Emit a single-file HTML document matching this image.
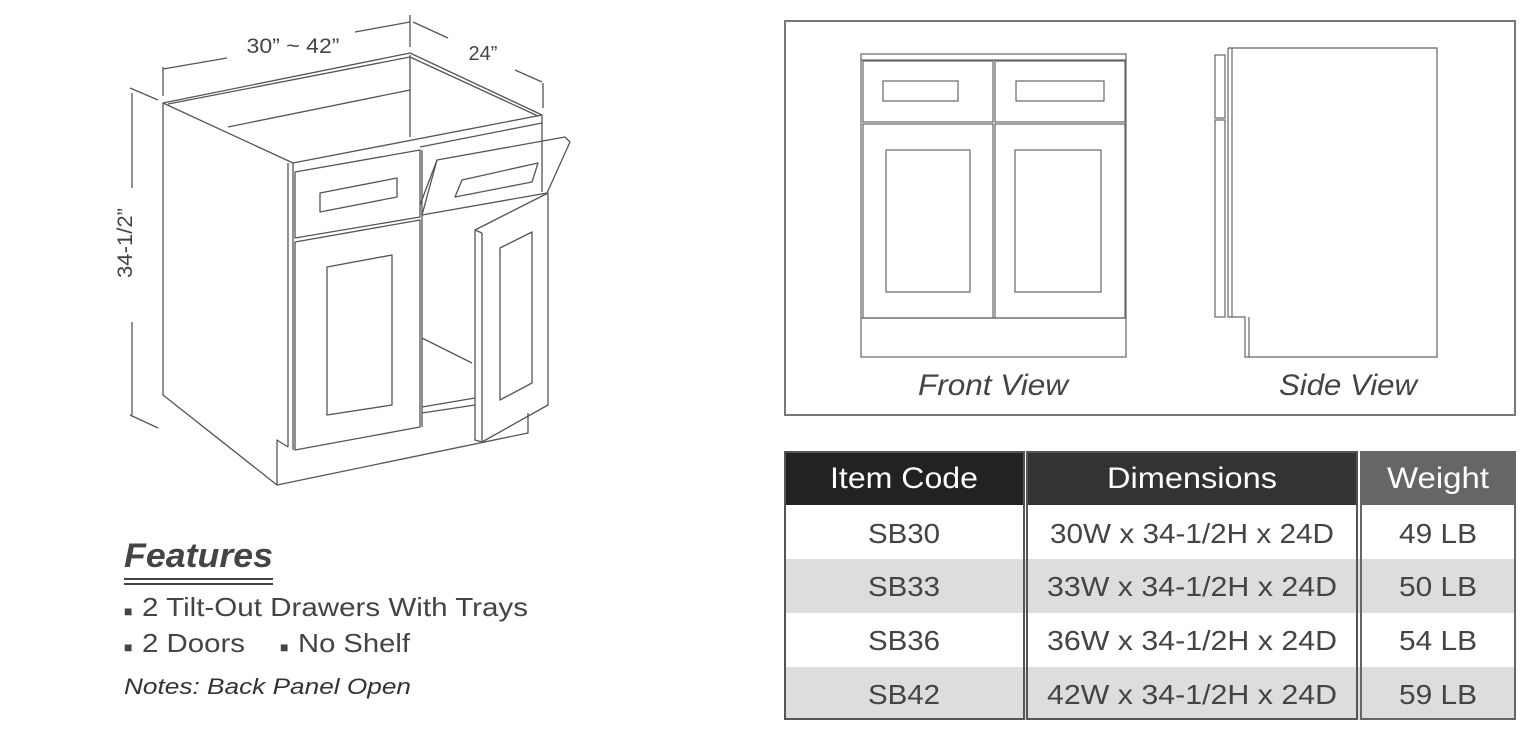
<!DOCTYPE html>
<html><head><meta charset="utf-8"><style>
html,body{margin:0;padding:0;background:#fff;}
svg{display:block;}
text{font-family:"Liberation Sans",Arial,sans-serif;}
</style></head><body>
<svg width="1536" height="733" viewBox="0 0 1536 733" xmlns="http://www.w3.org/2000/svg">
<rect width="1536" height="733" fill="#fff"/>
<g fill="none" stroke="#555" stroke-width="1.3" stroke-linejoin="round">
  <line x1="163" y1="67" x2="163" y2="96"/>
  <line x1="410" y1="15" x2="410" y2="47"/>
  <line x1="163" y1="69" x2="227" y2="58"/>
  <line x1="355" y1="32" x2="410" y2="22"/>
  <line x1="413" y1="22" x2="448" y2="38"/>
  <line x1="515" y1="70" x2="542" y2="82"/>
  <line x1="543" y1="83" x2="543" y2="108"/>
  <line x1="132" y1="93" x2="132" y2="188"/>
  <line x1="132" y1="322" x2="132" y2="415"/>
  <line x1="130" y1="88" x2="158" y2="100"/>
  <line x1="130" y1="415" x2="158" y2="428"/>
  <polygon points="163,103 410,53 542,115 293,163"/>
  <polyline points="168,104 410,57 538,116"/>
  <line x1="228" y1="127" x2="410" y2="90"/>
  <line x1="410" y1="55" x2="410" y2="137"/>
  <line x1="420" y1="147" x2="542" y2="123"/>
  <polyline points="163,103 163,395 277,485 528,433 528,413"/>
  <polyline points="277,485 277,440 288,447"/>
  <line x1="288" y1="163" x2="288" y2="447"/>
  <line x1="293" y1="163" x2="293" y2="450"/>
  <line x1="542" y1="115" x2="542" y2="192"/>
  <polygon points="295,172 420,150 420,217 295,238"/>
  <polygon points="320,193 397,178 397,197 320,212"/>
  <polygon points="295,242 420,220 420,427 295,450"/>
  <polygon points="327,267 392,255 392,405 327,415"/>
  <line x1="422" y1="150" x2="422" y2="427"/>
  <line x1="422" y1="338" x2="472" y2="363"/>
  <line x1="422" y1="407" x2="475" y2="398"/>
  <line x1="422" y1="413" x2="475" y2="405"/>
  <polygon points="437,160 565,137 570,142 547,193 422,215"/>
  <line x1="437" y1="160" x2="420" y2="205"/>
  <polygon points="462,180 538,163 532,182 455,197"/>
  <polygon points="475,230 548,193 548,405 482,442 475,440"/>
  <line x1="482" y1="233" x2="482" y2="442"/>
  <line x1="475" y1="230" x2="482" y2="233"/>
  <polygon points="500,248 532,232 532,383 500,400"/>
</g>
<text x="293" y="53" font-size="21" fill="#444" text-anchor="middle" textLength="93" lengthAdjust="spacingAndGlyphs">30” ~ 42”</text>
<text x="483" y="60" font-size="20" fill="#444" text-anchor="middle">24”</text>
<text transform="translate(132,243) rotate(-90)" font-size="21" fill="#444" text-anchor="middle" textLength="70" lengthAdjust="spacingAndGlyphs">34-1/2”</text>
<text x="124" y="567" font-size="34" font-weight="bold" font-style="italic" fill="#444" textLength="149" lengthAdjust="spacingAndGlyphs">Features</text>
<line x1="124" y1="579" x2="273" y2="579" stroke="#444" stroke-width="2"/>
<line x1="124" y1="584" x2="273" y2="584" stroke="#444" stroke-width="2"/>
<text x="124" y="616" font-size="14" fill="#444">■</text>
<text x="142" y="616" font-size="26" fill="#444" textLength="386" lengthAdjust="spacingAndGlyphs">2 Tilt-Out Drawers With Trays</text>
<text x="124" y="652" font-size="14" fill="#444">■</text>
<text x="142" y="652" font-size="26" fill="#444" textLength="103" lengthAdjust="spacingAndGlyphs">2 Doors</text>
<text x="280" y="652" font-size="14" fill="#444">■</text>
<text x="298" y="652" font-size="26" fill="#444" textLength="112" lengthAdjust="spacingAndGlyphs">No Shelf</text>
<text x="124" y="694" font-size="22" font-style="italic" fill="#333" textLength="287" lengthAdjust="spacingAndGlyphs">Notes: Back Panel Open</text>
<rect x="785" y="21" width="730" height="394" fill="none" stroke="#777" stroke-width="2"/>
<g fill="none" stroke="#666" stroke-width="1.2">
  <rect x="861" y="54" width="265" height="303"/>
  <line x1="861" y1="60" x2="1126" y2="60"/>
  <rect x="863" y="61" width="130" height="61"/>
  <rect x="995" y="61" width="130" height="61"/>
  <rect x="883" y="81" width="75" height="20"/>
  <rect x="1016" y="81" width="88" height="20"/>
  <rect x="863" y="124" width="130" height="194"/>
  <rect x="995" y="124" width="130" height="194"/>
  <rect x="886" y="150" width="84" height="142"/>
  <rect x="1015" y="150" width="86" height="142"/>
  <line x1="861" y1="318" x2="1126" y2="318"/>
  <polyline points="1228,48 1437,48 1437,357 1245,357 1245,317 1228,317 1228,48"/>
  <line x1="1232" y1="48" x2="1232" y2="317"/>
  <line x1="1249" y1="317" x2="1249" y2="357"/>
  <rect x="1215" y="55" width="10" height="63"/>
  <rect x="1215" y="120" width="10" height="197"/>
</g>
<text x="993" y="395" font-size="30" font-style="italic" fill="#444" text-anchor="middle" textLength="150" lengthAdjust="spacingAndGlyphs">Front View</text>
<text x="1348" y="395" font-size="30" font-style="italic" fill="#444" text-anchor="middle" textLength="138" lengthAdjust="spacingAndGlyphs">Side View</text>
<g>
  <rect x="784" y="451" width="241" height="54" fill="#222"/>
  <rect x="1027" y="451" width="331" height="54" fill="#333"/>
  <rect x="1361" y="451" width="155" height="54" fill="#666"/>
  <rect x="784" y="559" width="732" height="54" fill="#ddd"/>
  <rect x="784" y="667" width="732" height="53" fill="#ddd"/>
  <rect x="785" y="452" width="239" height="267" fill="none" stroke="#555" stroke-width="2"/>
  <rect x="1027" y="452" width="330" height="267" fill="none" stroke="#555" stroke-width="2"/>
  <rect x="1361" y="452" width="154" height="267" fill="none" stroke="#666" stroke-width="2"/>
</g>
<g font-size="30" text-anchor="middle">
  <text x="904" y="488" fill="#fff" textLength="148" lengthAdjust="spacingAndGlyphs">Item Code</text>
  <text x="1192" y="488" fill="#fff" textLength="170" lengthAdjust="spacingAndGlyphs">Dimensions</text>
  <text x="1438" y="488" fill="#fff" textLength="102" lengthAdjust="spacingAndGlyphs">Weight</text>
</g>
<g font-size="28" text-anchor="middle" fill="#444">
  <text x="904" y="543" textLength="72" lengthAdjust="spacingAndGlyphs">SB30</text>
  <text x="904" y="596" textLength="72" lengthAdjust="spacingAndGlyphs">SB33</text>
  <text x="904" y="650" textLength="72" lengthAdjust="spacingAndGlyphs">SB36</text>
  <text x="904" y="704" textLength="72" lengthAdjust="spacingAndGlyphs">SB42</text>
  <text x="1192" y="543" textLength="284" lengthAdjust="spacingAndGlyphs">30W x 34-1/2H x 24D</text>
  <text x="1192" y="596" textLength="290" lengthAdjust="spacingAndGlyphs">33W x 34-1/2H  x 24D</text>
  <text x="1192" y="650" textLength="290" lengthAdjust="spacingAndGlyphs">36W x 34-1/2H  x 24D</text>
  <text x="1192" y="704" textLength="290" lengthAdjust="spacingAndGlyphs">42W x 34-1/2H  x 24D</text>
  <text x="1438" y="543" textLength="78" lengthAdjust="spacingAndGlyphs">49 LB</text>
  <text x="1438" y="596" textLength="78" lengthAdjust="spacingAndGlyphs">50 LB</text>
  <text x="1438" y="650" textLength="78" lengthAdjust="spacingAndGlyphs">54 LB</text>
  <text x="1438" y="704" textLength="78" lengthAdjust="spacingAndGlyphs">59 LB</text>
</g>
</svg>
</body></html>
